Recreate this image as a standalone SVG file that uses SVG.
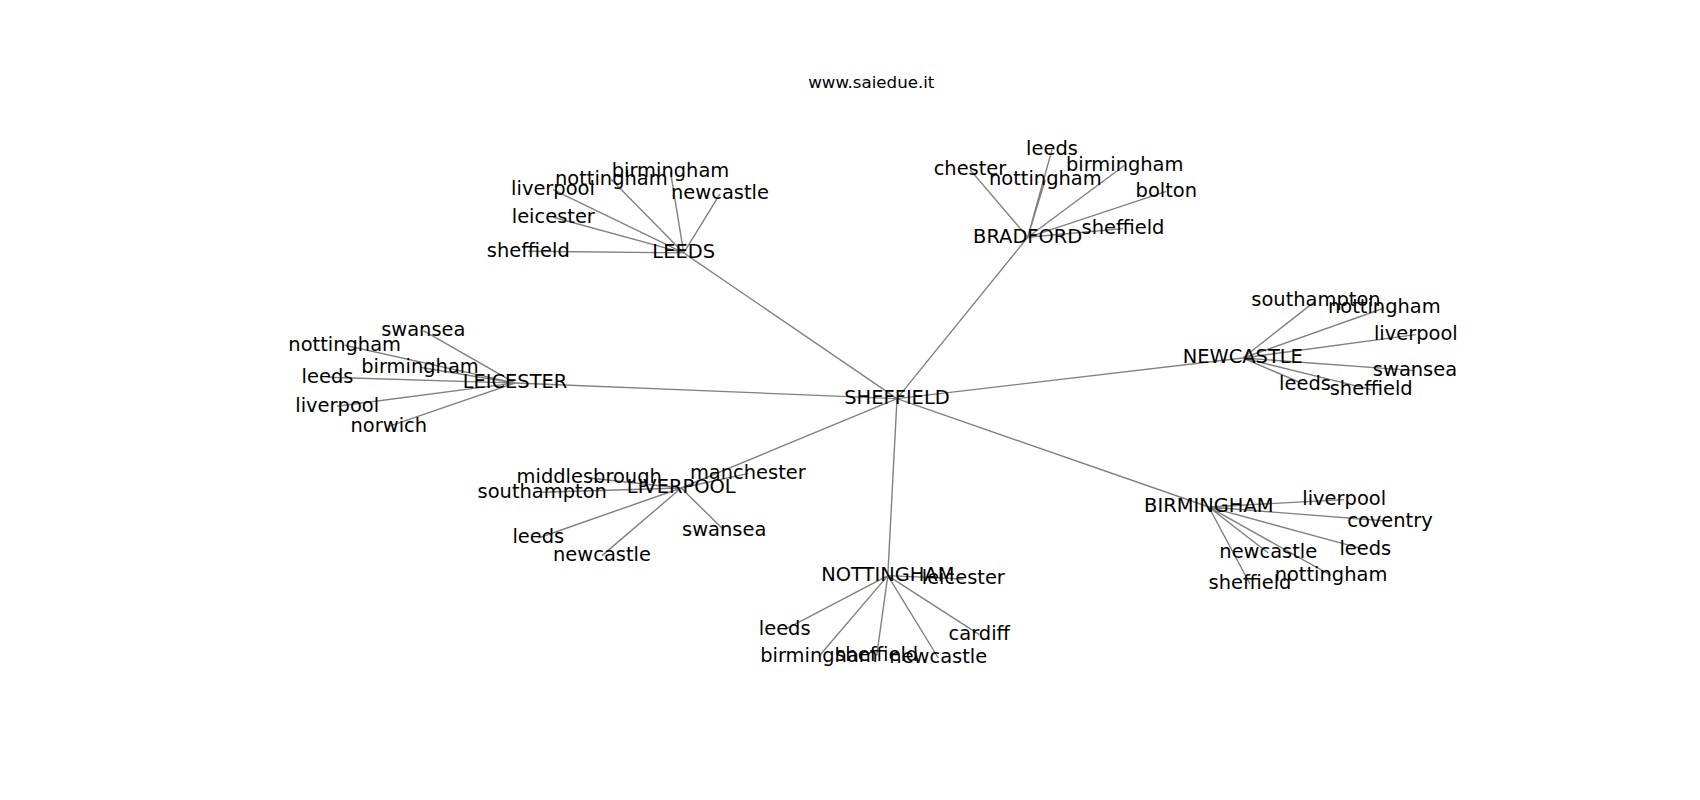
<svg xmlns="http://www.w3.org/2000/svg" width="1700" height="800" viewBox="0 0 1700 800">
<style>
.e{stroke:#808080;stroke-width:1.4;fill:none}
.l{font-family:"DejaVu Sans",sans-serif;font-size:19.44px;fill:#000;text-anchor:middle}
.t{font-family:"DejaVu Sans",sans-serif;font-size:16.67px;fill:#000;text-anchor:middle}
</style>
<rect width="1700" height="800" fill="#fff"/>
<text class="t" x="871.3" y="87.7">www.saiedue.it</text>
<g id="edges">
<path class="e" d="M897,398.6L683.7,252.9M897,398.6L1027.7,237.3M897,398.6L1242.8,358M897,398.6L515,383M897,398.6L681.2,488M897,398.6L887.8,575.6M897,398.6L1208.8,507"/>
<path class="e" d="M683.7,252.9L528.3,251.3M683.7,252.9L553.3,217.3M683.7,252.9L553,189.6M683.7,252.9L611.3,179.6M683.7,252.9L670.5,171.9M683.7,252.9L720,193.9"/>
<path class="e" d="M1027.7,237.3L1052,149.6M1027.7,237.3L970,169.6M1027.7,237.3L1045.3,179.6M1027.7,237.3L1124.7,165.3M1027.7,237.3L1166.3,191.3M1027.7,237.3L1123,228.6"/>
<path class="e" d="M1242.8,358L1316,300.6M1242.8,358L1384.3,308M1242.8,358L1415.8,334.6M1242.8,358L1415,370.6M1242.8,358L1305,384.6M1242.8,358L1371.2,389.6"/>
<path class="e" d="M515,383L423.3,330.6M515,383L344.7,345.3M515,383L420,367.3M515,383L327.5,377.3M515,383L337.2,406.3M515,383L388.8,426.3"/>
<path class="e" d="M681.2,488L589.2,478M681.2,488L542.2,492.3M681.2,488L747.8,473.6M681.2,488L538.3,538M681.2,488L602,555.6M681.2,488L724.2,530.3"/>
<path class="e" d="M887.8,575.6L963.3,579M887.8,575.6L784.7,629.6M887.8,575.6L979.3,634.6M887.8,575.6L819,656.3M887.8,575.6L876.7,655.6M887.8,575.6L938.3,658"/>
<path class="e" d="M1208.8,507L1344.2,499.6M1208.8,507L1390,521.3M1208.8,507L1365.3,549.6M1208.8,507L1268.3,553M1208.8,507L1331,575.3M1208.8,507L1250,584"/>
</g>
<g id="SHEFFIELD"><text class="l" x="897" y="404">SHEFFIELD</text></g>
<g id="LEEDS"><text class="l" x="683.7" y="258.3">LEEDS</text>
<text class="l" x="528.3" y="256.7">sheffield</text>
<text class="l" x="553.3" y="222.7">leicester</text>
<text class="l" x="553" y="195">liverpool</text>
<text class="l" x="611.3" y="185">nottingham</text>
<text class="l" x="670.5" y="177.3">birmingham</text>
<text class="l" x="720" y="199.3">newcastle</text></g>
<g id="BRADFORD"><text class="l" x="1027.7" y="242.7">BRADFORD</text>
<text class="l" x="1052" y="155">leeds</text>
<text class="l" x="970" y="175">chester</text>
<text class="l" x="1045.3" y="185">nottingham</text>
<text class="l" x="1124.7" y="170.7">birmingham</text>
<text class="l" x="1166.3" y="196.7">bolton</text>
<text class="l" x="1123" y="234">sheffield</text></g>
<g id="NEWCASTLE"><text class="l" x="1242.8" y="363.3">NEWCASTLE</text>
<text class="l" x="1316" y="306">southampton</text>
<text class="l" x="1384.3" y="313.3">nottingham</text>
<text class="l" x="1415.8" y="340">liverpool</text>
<text class="l" x="1415" y="376">swansea</text>
<text class="l" x="1305" y="390">leeds</text>
<text class="l" x="1371.2" y="395">sheffield</text></g>
<g id="LEICESTER"><text class="l" x="515" y="388.3">LEICESTER</text>
<text class="l" x="423.3" y="336">swansea</text>
<text class="l" x="344.7" y="350.7">nottingham</text>
<text class="l" x="420" y="372.7">birmingham</text>
<text class="l" x="327.5" y="382.7">leeds</text>
<text class="l" x="337.2" y="411.7">liverpool</text>
<text class="l" x="388.8" y="431.7">norwich</text></g>
<g id="LIVERPOOL"><text class="l" x="681.2" y="493.3">LIVERPOOL</text>
<text class="l" x="589.2" y="483.3">middlesbrough</text>
<text class="l" x="542.2" y="497.7">southampton</text>
<text class="l" x="747.8" y="479">manchester</text>
<text class="l" x="538.3" y="543.3">leeds</text>
<text class="l" x="602" y="561">newcastle</text>
<text class="l" x="724.2" y="535.7">swansea</text></g>
<g id="NOTTINGHAM"><text class="l" x="887.8" y="581.3">NOTTINGHAM</text>
<text class="l" x="963.3" y="584.3">leicester</text>
<text class="l" x="784.7" y="635">leeds</text>
<text class="l" x="979.3" y="640">cardiff</text>
<text class="l" x="819" y="661.7">birmingham</text>
<text class="l" x="876.7" y="661">sheffield</text>
<text class="l" x="938.3" y="663.3">newcastle</text></g>
<g id="BIRMINGHAM"><text class="l" x="1208.8" y="512.3">BIRMINGHAM</text>
<text class="l" x="1344.2" y="505">liverpool</text>
<text class="l" x="1390" y="526.7">coventry</text>
<text class="l" x="1365.3" y="555">leeds</text>
<text class="l" x="1268.3" y="558.3">newcastle</text>
<text class="l" x="1331" y="580.7">nottingham</text>
<text class="l" x="1250" y="589.3">sheffield</text></g>
</svg>
